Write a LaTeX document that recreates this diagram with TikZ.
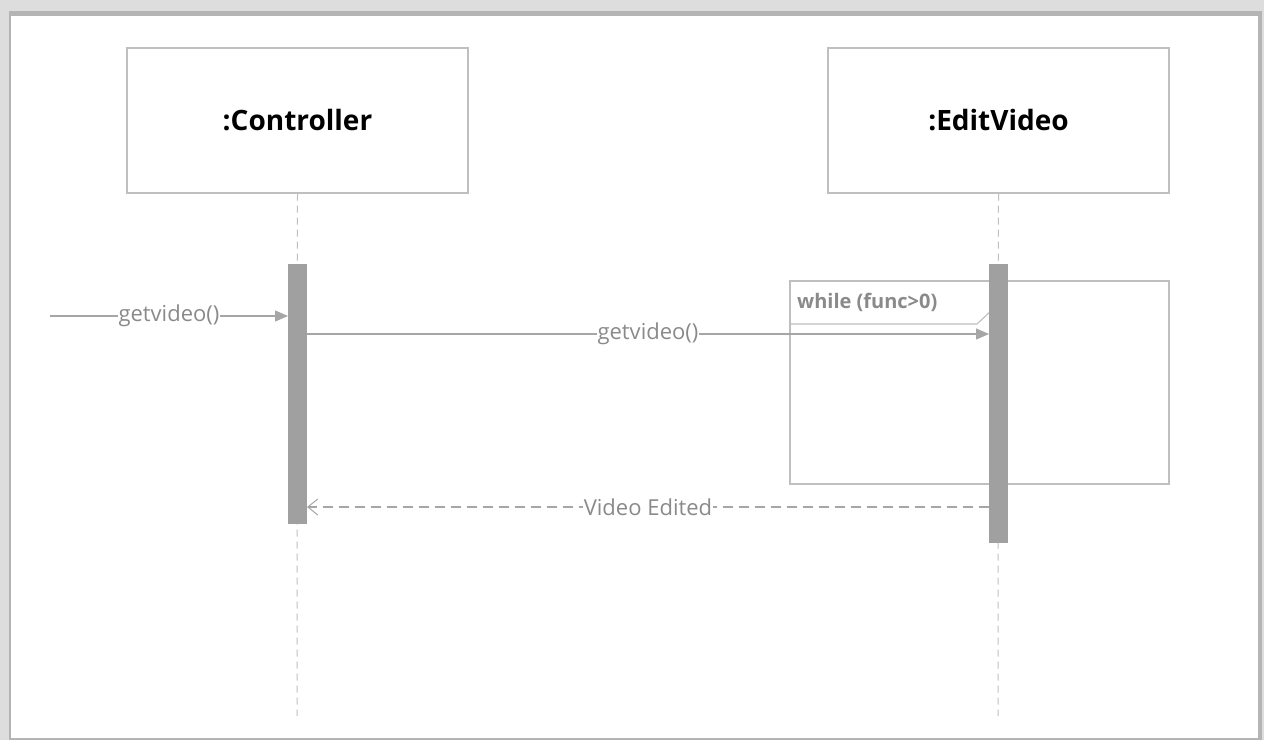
\documentclass[tikz,border=0pt]{standalone}
\usepackage{fontspec}
\setmainfont{Open Sans}
\usetikzlibrary{arrows.meta}
\definecolor{frameg}{HTML}{B4B4B4}
\definecolor{lineg}{HTML}{A6A6A6}
\definecolor{boxg}{HTML}{BFBFBF}
\definecolor{actg}{HTML}{A0A0A0}
\definecolor{txtg}{HTML}{8A8A8A}
\tikzset{
  objbox/.style={draw=boxg, line width=1.2pt, fill=white, minimum width=341pt, minimum height=145pt, inner sep=0pt, font=\fontsize{28}{32}\selectfont\bfseries},
  lifeline/.style={draw=boxg, line width=1pt, dash pattern=on 7pt off 5pt},
  actbar/.style={fill=actg, draw=none},
  msg/.style={draw=lineg, line width=1.1pt, -{Triangle[length=13pt,width=11pt,fill=lineg]}},
  ret/.style={draw=lineg, line width=1.1pt, dash pattern=on 10pt off 6pt, -{Straight Barb[length=10pt,width=16pt,line width=1pt]}},
  mlabel/.style={fill=white, inner sep=1pt, text=txtg, font=\fontsize{22}{26}\selectfont},
  loopbox/.style={draw=boxg, line width=1.1pt},
}
\begin{document}
\begin{tikzpicture}[x=1pt,y=-1pt]
\useasboundingbox (0,0) rectangle (1264,740);
% outer shadow frame
\fill[frameg!45] (0,0) rectangle (1264,740);
\fill[frameg] (9,11) rectangle (1262,740);
\fill[white] (11,16) rectangle (1258,738);
% objects
\node[objbox] (ctrl) at (297.5,120.5) {:Controller};
\node[objbox] (edit) at (998.5,120.5) {:EditVideo};
% lifelines
\coordinate (ctrlEnd) at (297,716);
\coordinate (editEnd) at (998,716);
\draw[lifeline] (ctrl.south) -- (ctrlEnd);
\draw[lifeline] (edit.south) -- (editEnd);
% loop frame
\draw[loopbox] (790,281) rectangle (1169,484);
\draw[loopbox] (790,324) -- (977,324) -- (992,310) -- (992,281);
\node[anchor=west, text=txtg, font=\fontsize{20}{24}\selectfont\bfseries, inner sep=0pt] (looplbl) at (797,302) {while (func>0)};
% activation bars
\fill[actg] (288,264) rectangle (307,524);
\fill[actg] (989,264) rectangle (1008,543);
\coordinate (ctrlIn) at (288,316);
\coordinate (start) at (50,316);
\coordinate (ctrlOut) at (307,334);
\coordinate (editIn) at (989,334);
\coordinate (editRet) at (989,507);
\coordinate (ctrlRet) at (307,507);
% messages
\draw[msg] (start) -- node[mlabel, pos=0.5] (m1) {getvideo()} (ctrlIn);
\draw[msg] (ctrlOut) -- node[mlabel, pos=0.5] (m2) {getvideo()} (editIn);
\draw[ret] (editRet) -- node[mlabel, pos=0.5] (m3) {Video Edited} (ctrlRet);
\end{tikzpicture}
\end{document}
